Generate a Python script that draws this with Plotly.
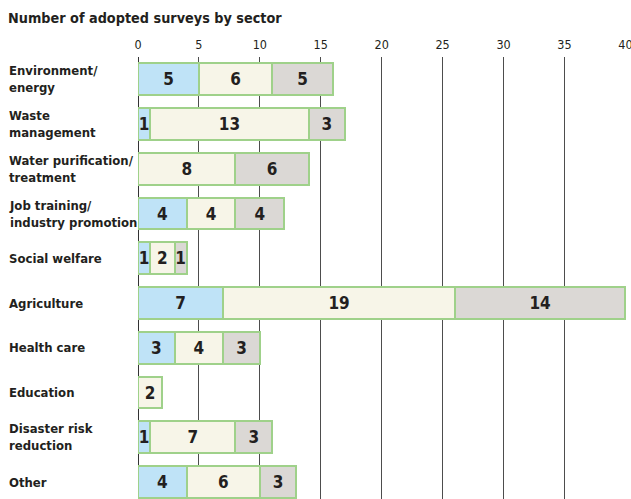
import plotly.graph_objects as go

categories = ["Environment/<br>energy", "Waste<br>management", "Water purification/<br>treatment",
              "Job training/<br>industry promotion", "Social welfare", "Agriculture",
              "Health care", "Education", "Disaster risk<br>reduction", "Other"]
series_a = [5, 1, 0, 4, 1, 7, 3, 0, 1, 4]
series_b = [6, 13, 8, 4, 2, 19, 4, 2, 7, 6]
series_c = [5, 3, 6, 4, 1, 14, 3, 0, 3, 3]
tick_vals = [0, 5, 10, 15, 20, 25, 30, 35, 40]
title = "Number of adopted surveys by sector"

colors = ["#bfe3f7", "#f7f5e8", "#dbd8d5"]
border = "#9fd18a"
FONT = "DejaVu Sans Condensed, Liberation Sans Narrow, Arial Narrow, sans-serif"
TXT = "#231f20"

fig = go.Figure()
for vals, col in zip([series_a, series_b, series_c], colors):
    xs = [v if v > 0 else None for v in vals]
    fig.add_trace(go.Bar(
        y=list(range(len(categories))), x=xs, orientation="h",
        marker=dict(color=col, line=dict(color=border, width=2)),
        width=0.71,
        text=[str(v) if v > 0 else "" for v in vals],
        textposition="inside", insidetextanchor="middle", textangle=0,
        textfont=dict(family=FONT, size=17, color=TXT, weight="bold"),
        hoverinfo="skip", showlegend=False,
    ))

for i, c in enumerate(categories):
    fig.add_annotation(x=-131 / 488.5, xref="paper", y=i, yref="y", text="<b>" + c + "</b>",
                       showarrow=False, xanchor="left", yanchor="middle", align="left",
                       font=dict(family=FONT, size=13, color=TXT))

fig.add_annotation(x=-132 / 488.5, xref="paper", y=1, yref="paper", yshift=39, text="<b>" + title + "</b>",
                   showarrow=False, xanchor="left", yanchor="middle", align="left",
                   font=dict(family=FONT, size=14.3, color=TXT))

fig.update_layout(
    width=631, height=499, barmode="stack",
    margin=dict(l=138, r=5, t=57, b=0, autoexpand=False),
    plot_bgcolor="white", paper_bgcolor="white",
    uniformtext=dict(minsize=17, mode="show"),
    xaxis=dict(side="top", range=[0, 40.05], tickvals=tick_vals, showgrid=True, automargin=False,
               gridcolor="#4d4d4d", gridwidth=1, zeroline=True, zerolinecolor="#333333",
               zerolinewidth=1, showline=False, ticks="", ticklabelstandoff=5,
               ticklabeloverflow="allow",
               tickfont=dict(family=FONT, size=12.5, color=TXT)),
    yaxis=dict(range=[9.38, -0.5], showticklabels=False, showgrid=False, zeroline=False,
               showline=False, automargin=False),
    bargap=0.29,
)
fig.write_html("out.html", config={"displayModeBar": False},
               post_script="document.body.style.margin='0';document.body.style.overflow='hidden';")
